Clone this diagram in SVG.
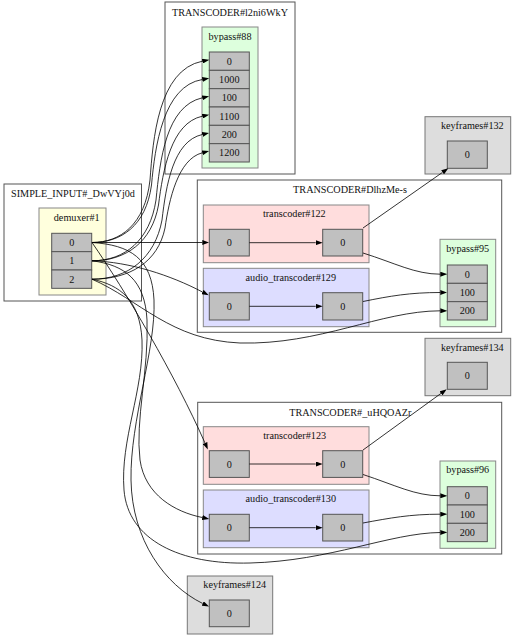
<svg xmlns="http://www.w3.org/2000/svg" width="514" height="638" viewBox="0 0 514 638">
<style>
text{font-family:"Liberation Serif","Times New Roman",serif;font-size:10.2px;fill:#111;text-anchor:middle}
.outer{fill:#fff;stroke:#555;stroke-width:1}
.demux{fill:#ffffdd;stroke:#888;stroke-width:1}
.byp{fill:#ddffdd;stroke:#888;stroke-width:1}
.tc{fill:#ffdddd;stroke:#888;stroke-width:1}
.atc{fill:#ddddff;stroke:#888;stroke-width:1}
.kf{fill:#dddddd;stroke:#777;stroke-width:1}
.port{fill:#c0c0c0;stroke:#555;stroke-width:1}
.e{fill:none;stroke:#000;stroke-width:0.8;marker-end:url(#ah)}
</style>
<defs>
<marker id="ah" viewBox="0 0 10 10" refX="0" refY="5" markerWidth="7" markerHeight="5" markerUnits="userSpaceOnUse" orient="auto" preserveAspectRatio="none"><path d="M0,0 L10,5 L0,10 z" fill="#000"/></marker>
</defs>
<rect width="514" height="638" fill="#fff"/>

<g id="cluster_TRANSCODER_l2ni6WkY">
<rect class="outer" x="165" y="2" width="130" height="172"/>
<text x="230" y="15.5">TRANSCODER#l2ni6WkY</text>
<g id="bypass88">
<rect class="byp" x="202" y="27" width="56" height="141"/>
<text x="230" y="40">bypass#88</text>
<rect class="port" x="209.3" y="52" width="40" height="18.33"/>
<rect class="port" x="209.3" y="70.33" width="40" height="18.33"/>
<rect class="port" x="209.3" y="88.67" width="40" height="18.33"/>
<rect class="port" x="209.3" y="107" width="40" height="18.33"/>
<rect class="port" x="209.3" y="125.33" width="40" height="18.33"/>
<rect class="port" x="209.3" y="143.67" width="40" height="18.33"/>
<text x="229.3" y="64.7">0</text>
<text x="229.3" y="83">1000</text>
<text x="229.3" y="101.3">100</text>
<text x="229.3" y="119.7">1100</text>
<text x="229.3" y="138">200</text>
<text x="229.3" y="156.3">1200</text>
</g>
</g>

<g id="cluster_SIMPLE_INPUT">
<rect class="outer" x="4" y="184" width="137.5" height="117"/>
<text x="73" y="197.3">SIMPLE_INPUT#_DwVYj0d</text>
<g id="demuxer1">
<rect class="demux" x="39" y="208" width="67" height="87"/>
<text x="76.7" y="221">demuxer#1</text>
<rect class="port" x="51.7" y="233.3" width="40" height="18.33"/>
<rect class="port" x="51.7" y="251.67" width="40" height="18.33"/>
<rect class="port" x="51.7" y="270" width="40" height="18.33"/>
<text x="71.7" y="246">0</text>
<text x="71.7" y="264.3">1</text>
<text x="71.7" y="282.7">2</text>
</g>
</g>

<g id="keyframes132">
<rect class="kf" x="425" y="116.7" width="85.7" height="57.3"/>
<text x="472.3" y="128.7">keyframes#132</text>
<rect class="port" x="447.3" y="141" width="40" height="27.3"/>
<text x="467.3" y="158.2">0</text>
</g>

<g id="cluster_TRANSCODER_DlhzMe-s">
<rect class="outer" x="197.3" y="180" width="304.4" height="152.3"/>
<text x="350" y="193.3">TRANSCODER#DlhzMe-s</text>
<g id="transcoder122">
<rect class="tc" x="203.3" y="205" width="165.7" height="57.7"/>
<text x="294.3" y="217.3">transcoder#122</text>
<rect class="port" x="209.3" y="229.3" width="40" height="26.7"/>
<rect class="port" x="322.7" y="229.3" width="40" height="26.7"/>
<text x="229.3" y="246.2">0</text>
<text x="342.7" y="246.2">0</text>
</g>
<g id="audio_transcoder129">
<rect class="atc" x="203.3" y="268.3" width="165.7" height="58.4"/>
<text x="290.8" y="280.5">audio_transcoder#129</text>
<rect class="port" x="209.3" y="292.7" width="40" height="27.3"/>
<rect class="port" x="322.7" y="292.7" width="40" height="27.3"/>
<text x="229.3" y="309.8">0</text>
<text x="342.7" y="309.8">0</text>
</g>
<g id="bypass95">
<rect class="byp" x="440" y="239.3" width="55.7" height="87.4"/>
<text x="467.7" y="251.7">bypass#95</text>
<rect class="port" x="447.3" y="265" width="40" height="18.33"/>
<rect class="port" x="447.3" y="283.33" width="40" height="18.33"/>
<rect class="port" x="447.3" y="301.67" width="40" height="18.33"/>
<text x="467.3" y="277.7">0</text>
<text x="467.3" y="296">100</text>
<text x="467.3" y="314.3">200</text>
</g>
</g>

<g id="keyframes134">
<rect class="kf" x="425" y="338.3" width="85.7" height="57.4"/>
<text x="472.3" y="350.5">keyframes#134</text>
<rect class="port" x="447.3" y="362.3" width="40" height="27"/>
<text x="467.3" y="379.3">0</text>
</g>

<g id="cluster_TRANSCODER_uHQOAZr">
<rect class="outer" x="197.7" y="402.3" width="304" height="151.7"/>
<text x="350.3" y="415.5">TRANSCODER#_uHQOAZr</text>
<g id="transcoder123">
<rect class="tc" x="203.3" y="426.7" width="165.7" height="57.6"/>
<text x="294.7" y="439">transcoder#123</text>
<rect class="port" x="209.3" y="450.7" width="40" height="26.7"/>
<rect class="port" x="322.7" y="450.7" width="40" height="26.7"/>
<text x="229.3" y="467.5">0</text>
<text x="342.7" y="467.5">0</text>
</g>
<g id="audio_transcoder130">
<rect class="atc" x="203.3" y="490" width="165.7" height="57.7"/>
<text x="290.8" y="502.2">audio_transcoder#130</text>
<rect class="port" x="209.3" y="514.3" width="40" height="26.7"/>
<rect class="port" x="322.7" y="514.3" width="40" height="26.7"/>
<text x="229.3" y="531.2">0</text>
<text x="342.7" y="531.2">0</text>
</g>
<g id="bypass96">
<rect class="byp" x="440" y="461" width="55.7" height="87.3"/>
<text x="467.7" y="473.4">bypass#96</text>
<rect class="port" x="447.3" y="486.7" width="40" height="18.33"/>
<rect class="port" x="447.3" y="505" width="40" height="18.33"/>
<rect class="port" x="447.3" y="523.33" width="40" height="18.33"/>
<text x="467.3" y="499.3">0</text>
<text x="467.3" y="517.7">100</text>
<text x="467.3" y="536">200</text>
</g>
</g>

<g id="keyframes124">
<rect class="kf" x="187.3" y="576" width="85.4" height="58"/>
<text x="234.7" y="588.3">keyframes#124</text>
<rect class="port" x="209.3" y="600" width="40" height="26.7"/>
<text x="229.3" y="616.8">0</text>
</g>

<g id="connectors">
<path class="e" d="M92,242.5 C120,242.5 145,225 150,180 C153,140 158,70 202.3,61.2"/>
<path class="e" d="M92,242.5 C121,242.5 146,226 151.5,185 C155,147 163,86 202.3,79.5"/>
<path class="e" d="M92,260.8 C125,260.8 150,240 156,200 C160,160 166,106 202.3,97.8"/>
<path class="e" d="M92,260.8 C126,260.8 152,242 158.5,205 C163,170 171,123 202.3,116.2"/>
<path class="e" d="M92,279.2 C128,279.2 155,258 162,220 C166,186 173,141 202.3,134.5"/>
<path class="e" d="M92,279.2 C130,279.2 158,262 165,228 C169,200 178,159 202.3,152.8"/>
<path class="e" d="M92,242.5 L202.3,242.5"/>
<path class="e" d="M92,242.5 C125,290 175,375 205,443"/>
<path class="e" d="M92,242.5 C130,245 152,258 154,300 C156,350 130,420 131,480 C132,540 165,585 202.7,603.5"/>
<path class="e" d="M92,260.8 C130,262 170,275 202.5,292"/>
<path class="e" d="M92,260.8 C125,265 145,280 147,320 C149,370 135,420 140,460 C145,495 175,512 202.3,517.5"/>
<path class="e" d="M92,279.2 C140,300 170,340 240,343 C320,345 380,311 440.3,310.8"/>
<path class="e" d="M92,279.2 C120,285 140,300 142,340 C144,390 120,440 124,490 C128,540 180,565 250,563 C330,561 390,533 440.3,532.5"/>
<path class="e" d="M249.3,242.7 L315.7,242.7"/>
<path class="e" d="M249.3,306.3 L315.7,306.3"/>
<path class="e" d="M249.3,464 L315.7,464"/>
<path class="e" d="M249.3,527.7 L315.7,527.7"/>
<path class="e" d="M363,228 L442.6,172.3"/>
<path class="e" d="M363,450 L441,393.4"/>
<path class="e" d="M363,253 C395,263 415,274.2 440.3,274.2"/>
<path class="e" d="M363,301.5 C390,296 410,292.5 440.3,292.5"/>
<path class="e" d="M363,474.5 C395,485 415,495.8 440.3,495.8"/>
<path class="e" d="M363,523 C390,518 410,514.2 440.3,514.2"/>
</g>
</svg>
